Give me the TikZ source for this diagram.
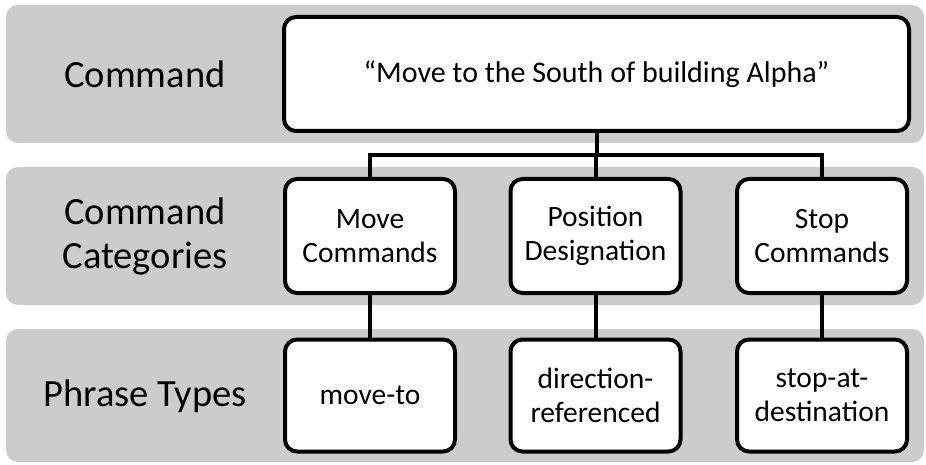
\documentclass[tikz,border=0pt]{standalone}
\usepackage{fontspec}
\setmainfont{Carlito}
\usetikzlibrary{positioning}
\definecolor{bandgray}{RGB}{204,204,204}
\pgfdeclarelayer{bands}
\pgfdeclarelayer{links}
\pgfsetlayers{bands,links,main}

\begin{document}
\begin{tikzpicture}[x=1pt,y=-1pt,
    band/.style={fill=bandgray, rounded corners=12pt},
    catbox/.style={draw, line width=4pt, fill=white, rounded corners=12pt,
        minimum width=170pt, minimum height=114pt, align=center,
        font=\fontsize{29.5}{34}\selectfont},
    rowlabel/.style={align=center, font=\fontsize{38.5}{44}\selectfont},
    link/.style={line width=4pt}]
    \useasboundingbox (0,0) rectangle (926,465);

    % bands
    \begin{pgfonlayer}{bands}
        \fill[band] (6,5) rectangle (924,143);
        \fill[band] (6,167) rectangle (924,305);
        \fill[band] (6,329) rectangle (924,462);
    \end{pgfonlayer}

    % row labels
    \node[rowlabel] (lcmd) at (145,74) {Command};
    \node[rowlabel] (lcat) at (145,236) {Command\\Categories};
    \node[rowlabel] (lphr) at (145,396) {Phrase Types};

    % boxes
    \node[catbox, minimum width=625pt, font=\fontsize{30}{34}\selectfont] (cmd) at (596.5,74) {“Move to the South of building Alpha”};
    \node[catbox] (move) at (370,236) {Move\\Commands};
    \node[catbox] (pos) at (595.5,236) {Position\\Designation};
    \node[catbox] (stop) at (822,236) {Stop\\Commands};
    \node[catbox, minimum height=112pt] (moveto) at (370,395.5) {move-to};
    \node[catbox, minimum height=112pt] (dirref) at (595.5,395.5) {direction-\\referenced};
    \node[catbox, minimum height=112pt] (stopat) at (822,395.5) {stop-at-\\destination};

    % connectors
    \begin{pgfonlayer}{links}
        \coordinate (split) at (596.5,155);
        \draw[link] (cmd.south) -- (split);
        \draw[link] (move.north) |- (split) -| (stop.north);
        \draw[link] (pos.north) -- (pos.north |- split);
        \draw[link] (move) -- (moveto);
        \draw[link] (pos) -- (dirref);
        \draw[link] (stop) -- (stopat);
    \end{pgfonlayer}
\end{tikzpicture}
\end{document}
